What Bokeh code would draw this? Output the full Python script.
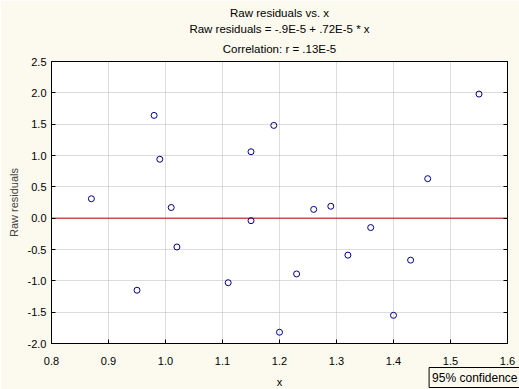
from bokeh.plotting import figure
from bokeh.models import Title, LinearAxis, FixedTicker, PrintfTickFormatter
from bokeh.embed import file_html
from bokeh.resources import INLINE

# ---- data ----
x_vals = [0.87, 0.95, 0.98, 0.99, 1.01, 1.02, 1.11, 1.15, 1.15, 1.19,
          1.20, 1.23, 1.26, 1.29, 1.32, 1.36, 1.40, 1.43, 1.46, 1.55]
residuals = [0.31, -1.15, 1.64, 0.94, 0.17, -0.46, -1.03, 1.06, -0.04, 1.48,
             -1.82, -0.89, 0.14, 0.19, -0.59, -0.15, -1.55, -0.67, 0.63, 1.98]
fit_intercept = -0.9e-5
fit_slope = 0.72e-5
x_ticks = [0.8, 0.9, 1.0, 1.1, 1.2, 1.3, 1.4, 1.5, 1.6]
y_ticks = [-2.0, -1.5, -1.0, -0.5, 0.0, 0.5, 1.0, 1.5, 2.0, 2.5]

title_lines = ["Raw residuals vs. x",
               "Raw residuals = -.9E-5 + .72E-5 * x",
               "Correlation: r = .13E-5"]
title_standoffs = [6, -1, 13]
x_label = "x"
y_label = "Raw residuals"
legend_label = "95% confidence"

FONT = "Liberation Sans"
BG = "#fcf9ee"

p = figure(width=519, height=389, output_backend="svg", toolbar_location=None,
           x_range=(x_ticks[0], x_ticks[-1]), y_range=(y_ticks[0], y_ticks[-1]),
           min_border_left=51, min_border_right=12, min_border_top=61,
           min_border_bottom=46, background_fill_color="white",
           border_fill_color=BG, outline_line_color="black")

# titles (last added on top)
for t, s in reversed(list(zip(title_lines, title_standoffs))):
    p.add_layout(Title(text=t, align="center", text_font=FONT, text_font_size="11.5px",
                       text_font_style="normal", text_color="black",
                       standoff=s, offset=0), "above")

for ax in (p.xaxis[0], p.yaxis[0]):
    ax.major_tick_in = 4
    ax.major_tick_out = 0
    ax.minor_tick_in = 0
    ax.minor_tick_out = 0
    ax.major_label_text_font = FONT
    ax.major_label_text_font_size = "11px"
    ax.major_label_text_color = "black"
    ax.axis_label_text_font = FONT
    ax.axis_label_text_font_size = "11px"
    ax.axis_label_text_font_style = "normal"
    ax.axis_line_color = "black"
    ax.formatter = PrintfTickFormatter(format="%.1f")

p.xaxis[0].ticker = FixedTicker(ticks=x_ticks)
p.yaxis[0].ticker = FixedTicker(ticks=y_ticks)
p.yaxis[0].axis_label = y_label
p.xaxis[0].major_label_standoff = 13
p.yaxis[0].major_label_standoff = 5

# right axis with ticks only
ra = LinearAxis(ticker=FixedTicker(ticks=y_ticks),
                major_label_overrides={t: "" for t in y_ticks},
                major_label_standoff=0,
                major_tick_in=4, major_tick_out=0, minor_tick_in=0, minor_tick_out=0,
                axis_line_color="black")
p.add_layout(ra, "right")

for g in (p.xgrid[0], p.ygrid[0]):
    g.grid_line_color = "#b8b8b8"
    g.grid_line_dash = "1 1"
    g.grid_line_width = 1
p.xgrid[0].ticker = FixedTicker(ticks=x_ticks)
p.ygrid[0].ticker = FixedTicker(ticks=y_ticks)

# fit line
fx = [x_ticks[0], x_ticks[-1]]
fy = [fit_intercept + fit_slope * v for v in fx]
p.line(fx, fy, line_color="#c00000", line_width=1)

p.scatter(x_vals, residuals, marker="circle", size=6, fill_color=None,
          line_color="#000080", line_width=1)

# legend box and x label, both in the bottom panel (not clipped to the frame)
leg = Title(text=legend_label, align="right", text_font=FONT, text_font_size="12px",
            text_font_style="normal", text_color="black", standoff=-40, offset=-13,
            border_line_color="black", border_line_width=1,
            background_fill_color=BG, background_fill_alpha=1)
if "padding" in leg.properties():
    leg.padding = 3
p.add_layout(leg, "below")

xt = Title(text=x_label, align="center", text_font=FONT, text_font_size="11px",
           text_font_style="normal", text_color="black", standoff=-40, offset=0)
p.add_layout(xt, "below")

open("out.html", "w").write(file_html(p, INLINE))
